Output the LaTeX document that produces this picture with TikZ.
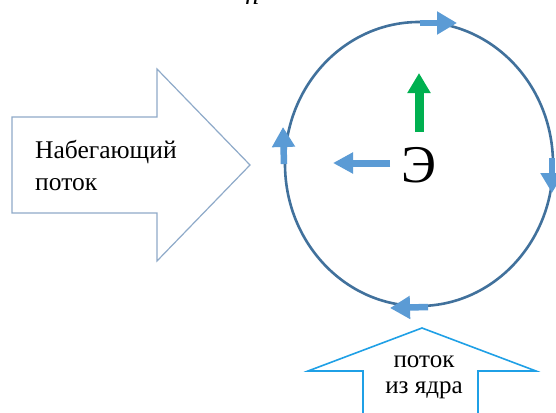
\documentclass[tikz,border=0pt]{standalone}
\usepackage{fontspec}
\setmainfont{Liberation Serif}
\usetikzlibrary{arrows.meta}
\definecolor{ringcol}{HTML}{41719C}
\definecolor{tipcol}{HTML}{5B9BD5}
\definecolor{bigcol}{HTML}{8FAAC9}
\definecolor{corecol}{HTML}{1FA0E6}
\definecolor{greencol}{HTML}{00B050}
\tikzset{
  ringarrow/.style={line width=6.5pt, tipcol, -{Triangle[width=22pt,length=20pt]}},
  bigarrow/.style={draw=bigcol, line width=1.2pt, fill=white, line join=miter},
  corearrow/.style={draw=corecol, line width=1.6pt, fill=white},
  lbl/.style={inner sep=0pt, font=\fontsize{25.5}{32}\selectfont}
}
\begin{document}
\begin{tikzpicture}[x=1pt,y=-1pt]
\useasboundingbox (0,0) rectangle (556,412);
\clip (0,0) rectangle (556,412);
\fill[white] (0,0) rectangle (556,412);
% partial italic letter at the top
\node[inner sep=0pt, anchor=base, font=\fontsize{28}{28}\selectfont\itshape] (topn) at (252,5) {n};
% incoming flow arrow
\draw[bigarrow] (12,117) -- (157,117) -- (157,69) -- (250,165) -- (157,261) -- (157,213) -- (12,213) -- cycle;
\node[lbl, anchor=base west, align=left] (inflow) at (35,190) {Набегающий\\поток};
% ring
\draw[ringcol, line width=2.6pt] (419,164) ellipse [x radius=134, y radius=142];
\coordinate (t0) at (420,23);  \coordinate (t1) at (457,23);
\coordinate (r0) at (552,158); \coordinate (r1) at (552,193);
\coordinate (b0) at (428,307); \coordinate (b1) at (390,308);
\coordinate (l0) at (284,164); \coordinate (l1) at (283,127);
\draw[ringarrow] (t0) -- (t1);
\draw[ringarrow] (r0) -- (r1);
\draw[ringarrow] (b0) -- (b1);
\draw[ringarrow] (l0) -- (l1);
% centre
\node[inner sep=0pt, font=\fontsize{53}{53}\selectfont] (E) at (419,165) {Э};
\coordinate (g0) at (419,132); \coordinate (g1) at (419,73);
\draw[line width=9pt, greencol, -{Triangle[width=22pt,length=20pt]}] (g0) -- (g1);
\coordinate (h0) at (390,163); \coordinate (h1) at (333,163);
\draw[line width=7pt, tipcol, -{Triangle[width=20pt,length=20pt]}] (h0) -- (h1);
% flow from the core
\draw[corearrow] (363,420) -- (363,371) -- (308,371) -- (422,328) -- (536,371) -- (478,371) -- (478,420);
\node[lbl, anchor=base, align=center, font=\fontsize{25}{26}\selectfont] (core) at (424,393) {поток\\из ядра};
\end{tikzpicture}
\end{document}
